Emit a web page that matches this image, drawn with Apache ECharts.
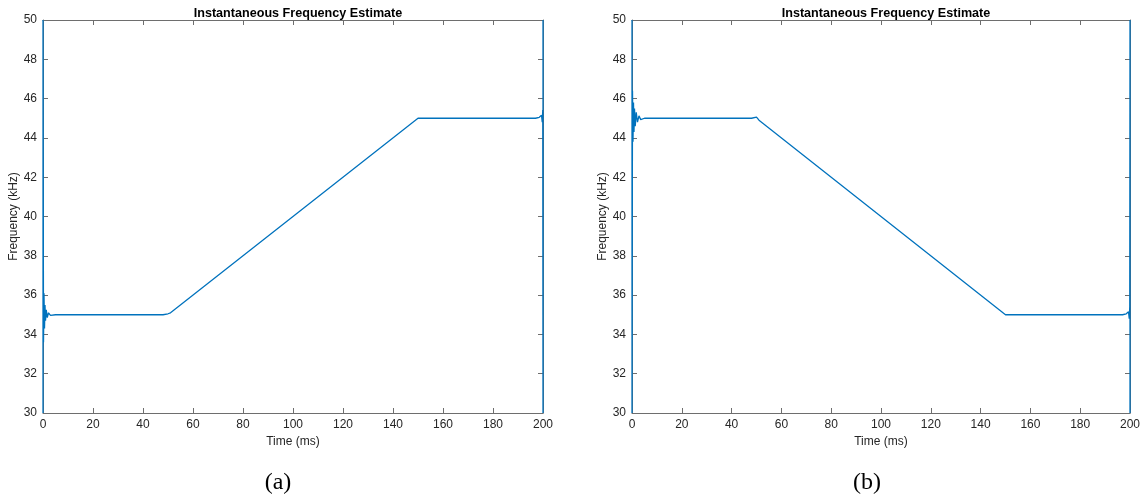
<!DOCTYPE html>
<html>
<head>
<meta charset="utf-8">
<script src="https://cdn.jsdelivr.net/npm/echarts@6/dist/echarts.min.js"></script>
<style>html,body{margin:0;padding:0;background:#fff}#c{width:1148px;height:502px}</style>
</head>
<body>
<div id="c"></div>
<script>
// Panel (a): time (ms) and frequency (kHz)
const timeA = [0, 0, 0.2, 0.4, 0.6, 0.8, 1.0, 1.3, 1.7, 2.2, 3, 5, 48, 50, 51, 150, 197, 198.5, 199, 199.4, 199.7, 199.9, 200, 200];
const freqA = [30, 50, 33.6, 36.1, 34.3, 35.5, 34.7, 35.25, 34.85, 35.1, 34.97, 35, 35, 35.05, 35.1, 45, 45, 45.05, 44.95, 45.15, 44.8, 45.4, 30, 50];
// Panel (b)
const timeB = [0, 0, 0.2, 0.4, 0.6, 0.8, 1.0, 1.3, 1.7, 2.2, 2.8, 3.5, 5, 48, 50, 51, 150, 197, 198.5, 199, 199.4, 199.7, 199.9, 200, 200];
const freqB = [50, 30, 46.4, 43.8, 45.8, 44.3, 45.5, 44.6, 45.3, 44.8, 45.12, 44.93, 45, 45, 45.06, 44.9, 35, 35, 35.05, 34.95, 35.15, 34.8, 35.4, 50, 30];
const xTicks = {min: 0, max: 200, interval: 20};
const yTicks = {min: 30, max: 50, interval: 2};
const titleText = 'Instantaneous Frequency Estimate';
const xName = 'Time (ms)';
const yName = 'Frequency (kHz)';
const panelLabels = ['(a)', '(b)'];

const axisColor = '#6e6e6e';
const textColor = '#262626';
const font = 'Liberation Sans, Arial, Helvetica, sans-serif';

const grids = [
  {left: 43, right: 605, top: 20, bottom: 89},
  {left: 632, right: 18, top: 20, bottom: 89}
];
const xAxes = [], yAxes = [];
grids.forEach((g, i) => {
  xAxes.push({type: 'value', gridIndex: i, min: xTicks.min, max: xTicks.max, interval: xTicks.interval,
    position: 'bottom', name: xName, nameLocation: 'middle', nameGap: 22,
    nameTextStyle: {color: textColor, fontSize: 12, fontFamily: font},
    axisLine: {show: true, onZero: false, lineStyle: {color: axisColor, width: 1}},
    axisTick: {show: true, inside: true, length: 5, lineStyle: {color: axisColor}},
    axisLabel: {color: textColor, fontSize: 12, fontFamily: font, margin: 6},
    splitLine: {show: false}});
  xAxes.push({type: 'value', gridIndex: i, min: xTicks.min, max: xTicks.max, interval: xTicks.interval,
    position: 'top',
    axisLine: {show: true, onZero: false, lineStyle: {color: axisColor, width: 1}},
    axisTick: {show: true, inside: true, length: 5, lineStyle: {color: axisColor}},
    axisLabel: {show: false}, splitLine: {show: false}});
  yAxes.push({type: 'value', gridIndex: i, min: yTicks.min, max: yTicks.max, interval: yTicks.interval,
    position: 'left', name: yName, nameLocation: 'middle', nameGap: 21, nameRotate: 90,
    nameTextStyle: {color: textColor, fontSize: 12, fontFamily: font},
    axisLine: {show: true, onZero: false, lineStyle: {color: axisColor, width: 1}},
    axisTick: {show: true, inside: true, length: 5, lineStyle: {color: axisColor}},
    axisLabel: {color: textColor, fontSize: 12, fontFamily: font, margin: 6},
    splitLine: {show: false}});
  yAxes.push({type: 'value', gridIndex: i, min: yTicks.min, max: yTicks.max, interval: yTicks.interval,
    position: 'right',
    axisLine: {show: true, onZero: false, lineStyle: {color: axisColor, width: 1}},
    axisTick: {show: true, inside: true, length: 5, lineStyle: {color: axisColor}},
    axisLabel: {show: false}, splitLine: {show: false}});
});

const mk = (t, f) => t.map((v, i) => [v, f[i]]);
const lineColor = '#0072BD';
const option = {
  animation: false,
  backgroundColor: '#fff',
  title: [
    {text: titleText, left: 293, top: 2, textAlign: 'center',
     textStyle: {fontSize: 12.6, fontWeight: 'bold', color: '#000', fontFamily: font}},
    {text: titleText, left: 881, top: 2, textAlign: 'center',
     textStyle: {fontSize: 12.6, fontWeight: 'bold', color: '#000', fontFamily: font}}
  ],
  grid: grids,
  xAxis: xAxes,
  yAxis: yAxes,
  series: [
    {type: 'line', xAxisIndex: 0, yAxisIndex: 0, data: mk(timeA, freqA), showSymbol: false,
     lineStyle: {color: lineColor, width: 1.3}, clip: true},
    {type: 'line', xAxisIndex: 2, yAxisIndex: 2, data: mk(timeB, freqB), showSymbol: false,
     lineStyle: {color: lineColor, width: 1.3}, clip: true}
  ],
  graphic: [
    {type: 'text', x: 278, y: 483, style: {text: panelLabels[0], fill: '#000', fontSize: 24,
      fontFamily: 'Liberation Serif, Times New Roman, serif', textAlign: 'center', textVerticalAlign: 'middle'}},
    {type: 'text', x: 867, y: 483, style: {text: panelLabels[1], fill: '#000', fontSize: 24,
      fontFamily: 'Liberation Serif, Times New Roman, serif', textAlign: 'center', textVerticalAlign: 'middle'}}
  ]
};
echarts.init(document.getElementById('c')).setOption(option);
</script>
</body>
</html>
